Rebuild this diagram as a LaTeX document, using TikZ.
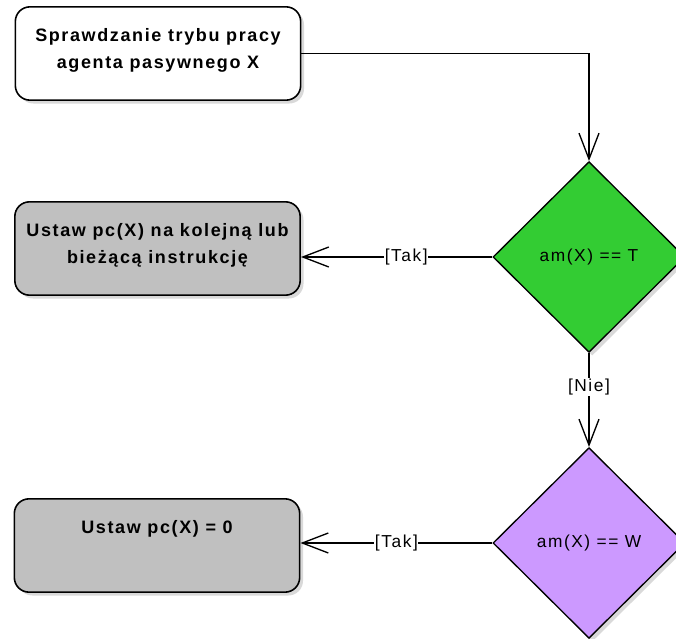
\documentclass[tikz,border=0pt]{standalone}
\usepackage{fontspec}
\setmainfont{Liberation Sans}[LetterSpace=9]
\usetikzlibrary{shapes.geometric,arrows.meta,shadows}
\definecolor{decgreen}{HTML}{33CC33}
\definecolor{decviolet}{HTML}{CC99FF}
\definecolor{actgrey}{HTML}{C0C0C0}

\begin{document}
\begin{tikzpicture}
[
 x=0.75pt, y=-0.75pt,
  >={Straight Barb[length=19.5pt,width=15pt]},
  boxshadow/.style = {drop shadow={shadow xshift=2.5pt,shadow yshift=-2.5pt,fill=black!15,opacity=1}},
  action/.style = {draw, line width=1.2pt, rounded corners=11pt, minimum width=214pt, minimum height=70pt, inner sep=0pt, boxshadow, font=\fontsize{13.5pt}{20pt}\selectfont\bfseries},
  decision/.style = {draw, diamond, line width=1pt, minimum width=144pt, minimum height=143pt, inner sep=0pt, boxshadow, font=\fontsize{13pt}{16pt}\selectfont},
  guard/.style = {fill=white, inner sep=0.5pt, font=\fontsize{13pt}{16pt}\selectfont},
]

\useasboundingbox (0,0) rectangle (676,639);

\node (start) at (158,53.5) [action, fill=white] {\parbox[c][37pt][t]{212pt}{\centering Sprawdzanie trybu pracy\\ agenta pasywnego X}};
\node (act1) at (157.5,248.5) [action, fill=actgrey] {\parbox[c][37pt][t]{212pt}{\centering Ustaw pc(X) na kolejną lub\\ bieżącą instrukcję}};
\node (act2) at (157,545.5) [action, fill=actgrey] {\parbox[c][37pt][t]{212pt}{\centering Ustaw pc(X) = 0}};
\node (d1) at (589,257) [decision, fill=decgreen] {am(X) == T};
\node (d2) at (589,543) [decision, fill=decviolet] {am(X) == W};

\draw [->, line width=1pt] (start.east) -| (d1.north);
\draw [->, line width=1pt] (d1.west) -- node [guard, pos=0.45] {[Tak]} (d1.west -| act1.east);
\draw [->, line width=1pt] (d1.south) -- node [guard, pos=0.36] {[Nie]} (d2.north);
\draw [->, line width=1pt] (d2.west) -- node [guard] {[Tak]} (d2.west -| act2.east);



\end{tikzpicture}
\end{document}
